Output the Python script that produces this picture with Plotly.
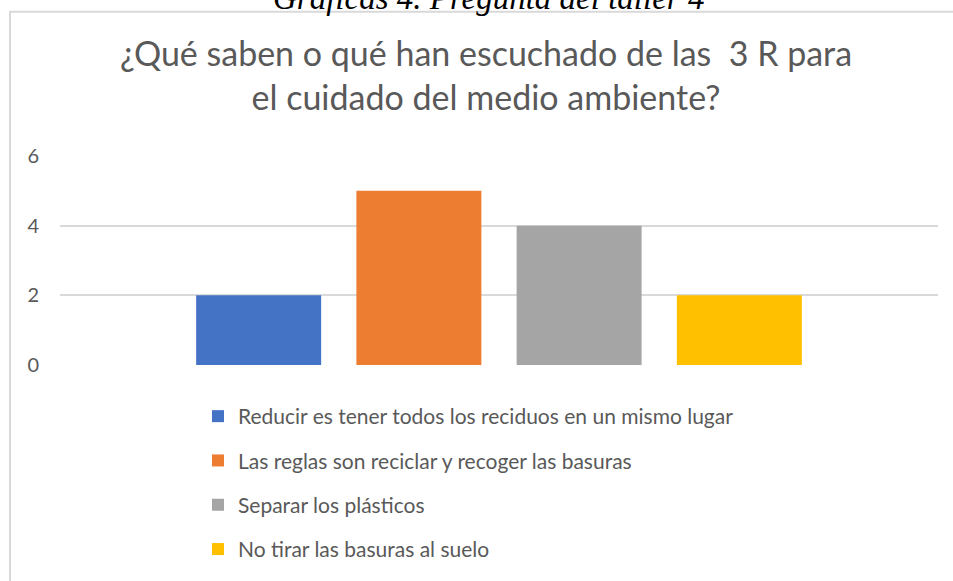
import plotly.graph_objects as go

categories = ["Respuestas"]
answers = [
    "Reducir es tener todos los reciduos en un mismo lugar",
    "Las reglas son reciclar y recoger las basuras",
    "Separar los plásticos",
    "No tirar las basuras al suelo",
]
counts = [2, 5, 4, 2]
colors = ["#4472C4", "#ED7D31", "#A5A5A5", "#FFC000"]

TXT = "#595959"
W, H = 953, 581
L, T, B, R = 60, 156, 215, 15
PW, PH = W - L - R, H - T - B


def px_x(x):
    return (x - L) / PW


def px_y(y):
    return (H - B - y) / PH


fig = go.Figure()
for i, (name, val, col) in enumerate(zip(answers, counts, colors)):
    fig.add_trace(go.Bar(
        x=categories, y=[val], name=name,
        marker=dict(color=col, line=dict(width=0)),
        legendgroup=f"g{i}",
    ))

fig.update_layout(
    width=W, height=H,
    margin=dict(l=L, r=R, t=T, b=B),
    paper_bgcolor="white", plot_bgcolor="white",
    barmode="group", bargap=0.27, bargroupgap=0.22,
    font=dict(family="Lato", color=TXT),
    title=dict(
        text="¿Qué saben o qué han escuchado de las  3 R para<br>el cuidado del medio ambiente?",
        x=486 / W, xanchor="center", xref="container",
        y=1 - 66 / H, yanchor="top", yref="container",
        font=dict(family="Lato", size=34, color=TXT),
    ),
    xaxis=dict(showticklabels=False, showgrid=False, zeroline=False, showline=False),
    yaxis=dict(
        range=[0, 6], tickvals=[0, 2, 4, 6], showgrid=True, gridcolor="#d9d9d9",
        gridwidth=1.5, zeroline=False, showline=False,
        tickfont=dict(family="Lato", size=20, color=TXT),
        ticklabelstandoff=20,
    ),
    legend=dict(
        x=px_x(198), xanchor="left",
        y=px_y(396), yanchor="top",
        font=dict(family="Lato", size=21, color=TXT),
        tracegroupgap=14, bgcolor="rgba(0,0,0,0)",
    ),
    showlegend=True,
)

# caption above the chart box (cut off by the page edge)
fig.add_annotation(
    text="<i>Gráficas 4. Pregunta del taller 4</i>",
    xref="paper", yref="paper", x=px_x(488), y=px_y(17),
    xanchor="center", yanchor="bottom", showarrow=False,
    font=dict(family="Liberation Serif", size=33, color="black"),
)

# chart frame
fig.add_shape(
    type="rect", xref="paper", yref="paper",
    x0=px_x(10), x1=px_x(990),
    y0=px_y(620), y1=px_y(11),
    line=dict(color="#d9d9d9", width=2), fillcolor="rgba(0,0,0,0)", layer="below",
)

fig.write_html(
    "out.html",
    config={"displayModeBar": False},
    post_script="document.body.style.margin = '0';",
)
